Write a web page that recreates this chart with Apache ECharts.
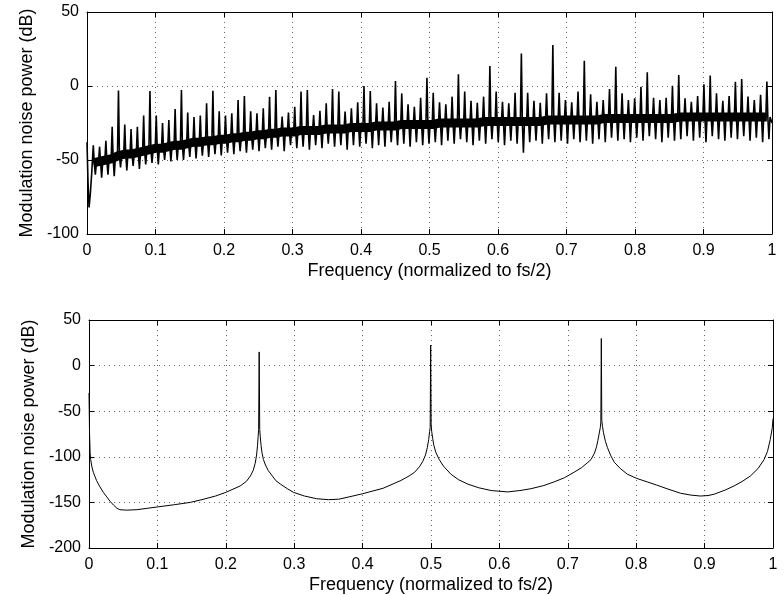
<!DOCTYPE html>
<html>
<head>
<meta charset="utf-8">
<script src="https://cdn.jsdelivr.net/npm/echarts@6/dist/echarts.min.js"></script>
<style>
html, body { margin: 0; padding: 0; background: #fff; }
#chart { width: 784px; height: 595px; }
</style>
</head>
<body>
<div id="chart"></div>
<script>
// x tick labels shared by both panels
const freqTicks = [0, 0.1, 0.2, 0.3, 0.4, 0.5, 0.6, 0.7, 0.8, 0.9, 1]

// ---- top panel: spectrum with a spike every SPIKE_STEP ----
const SPIKE_STEP = 0.00919
// the drop right at f = 0
const startFreq = [0, 0.0015, 0.003, 0.005, 0.007]
const startDb = [-38, -65, -82, -72, -58]
// one value per spike, n = 1..108
const peakDb = [
  -40, -41, -37, -27.5, -3,
  -26, -29, -27.5, -20, -3.4,
  -20, -25, -23, -15.5, -2.7,
  -18, -21, -20, -11.7, -3.2,
  -17, -20, -18.5, -9.5, -6.8,
  -17, -18.5, -15, -7.2, -2.7,
  -20.7, -18, -14, -3.8, -2.7,
  -19.6, -16.7, -11.7, -2, -3.8,
  -17.3, -15, -11, 0, -3.4,
  -11.7, -14.6, -10.6, 3.4, -5,
  -12.4, -14, -7.9, 5.6, -4.5,
  -11, -12.4, -7.2, 8, -3.8,
  -10, -11.3, -7.2, 13.5, -3.8,
  -10.6, -11.7, -4.5, 22, -4.5,
  -10, -11.3, -5, 27.7, -4.5,
  -9.5, -11, -3.8, 17, -5.6,
  -10.6, -9.5, -2, 13, -5,
  -9.5, -8.3, -0.5, 9.2, -7.9,
  -9.5, -7.9, 0.2, 7.4, -8.3,
  -10.6, -6.8, 1.1, 7, -5,
  -10, -6.8, 2.9, 4.7, -7.2,
  -9.5, -6, 3
]
const dipDb = [
  -60, -62, -60, -61, -55,
  -57, -54, -56, -53, -52,
  -53, -50, -51, -50, -50,
  -48, -49, -47, -48, -46,
  -47, -45, -46, -44, -45,
  -43, -44, -42, -43, -41,
  -44, -40, -42, -41, -43,
  -40, -42, -39, -41, -40,
  -43, -40, -41, -39, -42,
  -40, -41, -38, -40, -39,
  -41, -38, -40, -39, -38,
  -40, -37, -39, -36, -38,
  -40, -37, -39, -36, -38,
  -40, -37, -39, -45, -38,
  -37, -39, -36, -38, -37,
  -39, -36, -38, -37, -39,
  -36, -38, -35, -37, -36,
  -38, -35, -37, -34, -36,
  -38, -35, -37, -36, -34,
  -37, -35, -38, -34, -36,
  -37, -35, -36, -34, -37,
  -35, -38, -36
]
const bandDb = [
  -52, -51, -50, -49, -47,
  -46, -46, -45, -44, -43,
  -42, -42, -41, -40, -40,
  -39, -38, -38, -37, -37,
  -36, -36, -35, -35, -34,
  -34, -33, -33, -32, -32,
  -31, -31, -31, -30, -30,
  -30, -30, -29, -29, -29,
  -29, -28, -28, -28, -28,
  -27, -27, -27, -27, -26,
  -26, -26, -26, -26, -26,
  -25, -25, -25, -25, -25,
  -25, -25, -24, -24, -24,
  -24, -24, -24, -24, -24,
  -24, -24, -23, -23, -23,
  -23, -23, -23, -23, -23,
  -23, -22, -22, -22, -22,
  -22, -22, -22, -22, -22,
  -22, -22, -22, -21, -21,
  -21, -21, -21, -21, -21,
  -21, -21, -21, -21, -21,
  -21, -21, -21
]
const endDb = -25

// ---- bottom panel: smooth curve with three narrow peaks ----
const lowerFreq = [
  0, 0.0008, 0.0016, 0.0024, 0.004, 0.0063, 0.009, 0.011, 0.016, 0.021,
  0.026, 0.031, 0.036, 0.041, 0.045, 0.055, 0.07, 0.085, 0.1, 0.125,
  0.148, 0.165, 0.185, 0.2, 0.212, 0.221, 0.23, 0.236, 0.24, 0.243,
  0.245, 0.2463, 0.2473, 0.248, 0.2488, 0.2496, 0.2504, 0.2516, 0.253, 0.255,
  0.258, 0.262, 0.267, 0.273, 0.28, 0.29, 0.299, 0.315, 0.333, 0.35,
  0.365, 0.38, 0.4, 0.43, 0.456, 0.468, 0.476, 0.483, 0.488, 0.492,
  0.4946, 0.4966, 0.498, 0.4988, 0.4995, 0.5002, 0.501, 0.5025, 0.504, 0.507,
  0.512, 0.518, 0.529, 0.54, 0.554, 0.57, 0.588, 0.612, 0.63, 0.646,
  0.665, 0.68, 0.695, 0.709, 0.72, 0.728, 0.734, 0.739, 0.742, 0.744,
  0.746, 0.7475, 0.7483, 0.749, 0.7497, 0.7508, 0.752, 0.755, 0.758, 0.763,
  0.768, 0.777, 0.787, 0.8, 0.816, 0.83, 0.845, 0.865, 0.88, 0.894,
  0.905, 0.914, 0.93, 0.943, 0.955, 0.967, 0.978, 0.987, 0.992, 0.996,
  0.999, 1
]
const lowerDb = [
  -30, -75, -95, -103, -110, -117, -122, -126, -133, -139,
  -144, -149, -153, -156.5, -158, -158.5, -158, -156.5, -155, -152.5,
  -150, -147, -143, -139, -135, -132, -127, -121, -115, -107,
  -98, -88, -78, -70, 15, -70, -78, -88, -96, -103,
  -109, -115, -120, -126, -130, -135, -139, -143, -146, -147,
  -146.5, -144, -140.5, -134.5, -126, -121, -117, -111, -105, -98,
  -90, -81, -72, -68, 22.5, -65, -72, -80, -87, -95,
  -103, -110, -119, -125, -130, -134, -137, -138.5, -137, -135,
  -131.5, -127.5, -123, -117, -112, -107, -103, -96, -89, -82,
  -74, -68, -62, 29.7, -60, -67, -73, -83, -90, -99,
  -106, -113, -119, -123.5, -127.5, -131, -135, -140, -142, -143,
  -142.5, -141, -136.5, -132, -127, -121, -113, -103, -94, -81,
  -68, -58
]

// build the top trace: band -> spike -> band -> dip -> band for each spike
let upperTrace = []
let upperBand = []
for (let i = 0; i < startFreq.length; i++) {
  upperTrace.push([startFreq[i], startDb[i]])
}
for (let i = 0; i < peakDb.length; i++) {
  let f = (i + 1) * SPIKE_STEP
  upperTrace.push([f - 0.0015, bandDb[i]])
  upperTrace.push([f, peakDb[i]])
  upperTrace.push([f + 0.0014, bandDb[i]])
  upperTrace.push([f + 0.003, dipDb[i]])
  upperTrace.push([f + 0.0046, bandDb[i]])
  upperBand.push([f, bandDb[i]])
}
upperTrace.push([1, endDb])

let lowerTrace = lowerFreq.map((f, i) => [f, lowerDb[i]])

const FONT = '"Liberation Sans", Arial, Helvetica, sans-serif'

function bottomAxis (gridIndex) {
  return {
    type: 'value',
    gridIndex: gridIndex,
    min: freqTicks[0],
    max: freqTicks[freqTicks.length - 1],
    interval: 0.1,
    name: 'Frequency (normalized to fs/2)',
    nameLocation: 'middle',
    nameGap: 28,
    nameTextStyle: { color: '#000', fontSize: 18, fontFamily: FONT },
    axisLine: { show: true, onZero: false, lineStyle: { color: '#000', width: 1 } },
    axisTick: { show: true, inside: true, length: 5, lineStyle: { color: '#000' } },
    axisLabel: {
      color: '#000',
      fontSize: 16,
      fontFamily: FONT,
      margin: 9,
      formatter: v => String(+v.toFixed(1))
    },
    splitLine: { show: true, lineStyle: { color: '#666', type: [1, 4], width: 1 } }
  }
}

function topAxis (gridIndex) {
  return {
    type: 'value',
    gridIndex: gridIndex,
    position: 'top',
    min: 0,
    max: 1,
    interval: 0.1,
    axisLine: { show: true, onZero: false, lineStyle: { color: '#000', width: 1 } },
    axisTick: { show: true, inside: true, length: 5, lineStyle: { color: '#000' } },
    axisLabel: { show: false },
    splitLine: { show: false }
  }
}

function leftAxis (gridIndex, min, max) {
  return {
    type: 'value',
    gridIndex: gridIndex,
    min: min,
    max: max,
    interval: 50,
    name: 'Modulation noise power (dB)',
    nameLocation: 'middle',
    nameGap: 50,
    nameTextStyle: { color: '#000', fontSize: 18, fontFamily: FONT },
    axisLine: { show: true, onZero: false, lineStyle: { color: '#000', width: 1 } },
    axisTick: { show: true, inside: true, length: 5, lineStyle: { color: '#000' } },
    axisLabel: { color: '#000', fontSize: 16, fontFamily: FONT, margin: 8 },
    splitLine: { show: true, lineStyle: { color: '#666', type: [1, 4], width: 1 } }
  }
}

function rightAxis (gridIndex, min, max) {
  return {
    type: 'value',
    gridIndex: gridIndex,
    position: 'right',
    min: min,
    max: max,
    interval: 50,
    axisLine: { show: true, onZero: false, lineStyle: { color: '#000', width: 1 } },
    axisTick: { show: true, inside: true, length: 5, lineStyle: { color: '#000' } },
    axisLabel: { show: false },
    splitLine: { show: false }
  }
}

const chart = echarts.init(document.getElementById('chart'))
const option = {
  backgroundColor: '#fff',
  animation: false,
  grid: [
    { left: 87, right: 12, top: 12, height: 222 },
    { left: 89, right: 11, top: 320, height: 229 }
  ],
  xAxis: [bottomAxis(0), topAxis(0), bottomAxis(1), topAxis(1)],
  yAxis: [leftAxis(0, -100, 50), rightAxis(0, -100, 50), leftAxis(1, -200, 50), rightAxis(1, -200, 50)],
  series: [
    {
      // thick dark band under the spikes
      type: 'line',
      xAxisIndex: 0,
      yAxisIndex: 0,
      data: upperBand,
      showSymbol: false,
      lineStyle: { color: '#000', width: 9 }
    },
    {
      type: 'line',
      xAxisIndex: 0,
      yAxisIndex: 0,
      data: upperTrace,
      showSymbol: false,
      lineStyle: { color: '#000', width: 1.6 }
    },
    {
      type: 'line',
      xAxisIndex: 2,
      yAxisIndex: 2,
      data: lowerTrace,
      showSymbol: false,
      lineStyle: { color: '#000', width: 1 }
    }
  ]
}
chart.setOption(option)
</script>
</body>
</html>
